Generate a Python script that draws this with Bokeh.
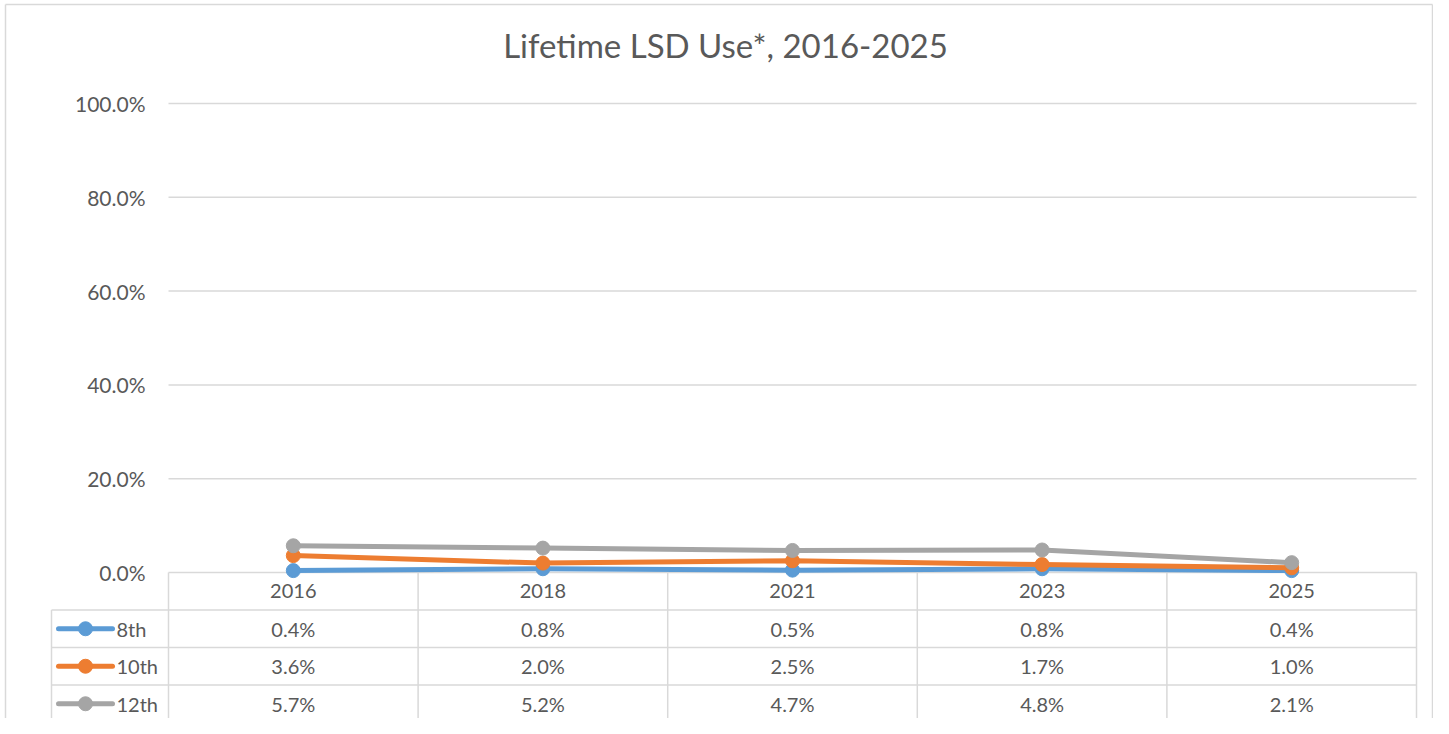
from bokeh.plotting import figure
from bokeh.models import ColumnDataSource, Range1d
from bokeh.core.properties import value
from bokeh.embed import file_html
from bokeh.resources import INLINE

# ---------------- data ----------------
title_text = "Lifetime LSD Use*, 2016-2025"
years = ["2016", "2018", "2021", "2023", "2025"]
grades = ["8th", "10th", "12th"]
grade8 = [0.4, 0.8, 0.5, 0.8, 0.4]
grade10 = [3.6, 2.0, 2.5, 1.7, 1.0]
grade12 = [5.7, 5.2, 4.7, 4.8, 2.1]
y_ticks = [0, 20, 40, 60, 80, 100]
colors = ["#5B9BD5", "#ED7D31", "#A5A5A5"]

series = [grade8, grade10, grade12]

# ---------------- layout ----------------
W, H = 1433, 718
X0_PX = 168.0          # px where x=0 (left edge of plot area)
COL_PX = 249.6         # px per category column
Y0_PX = 572.0          # px (from top) where y=0
PX_PER_PCT = 4.69      # px per percentage point
ROW_H = 37.5 / PX_PER_PCT  # table row height in data units

FONT = value("Lato")
TXT = "#595959"
GRID = "#D9D9D9"


def dx(px):
    return (px - X0_PX) / COL_PX


def dy(px):
    return (Y0_PX - px) / PX_PER_PCT


x_range = Range1d(dx(0), dx(W))
y_range = Range1d(dy(H), dy(0))

p = figure(width=W, height=H, x_range=x_range, y_range=y_range,
           output_backend="svg", toolbar_location=None,
           x_axis_location=None, y_axis_location=None,
           min_border=0, background_fill_color="white",
           border_fill_color="white", outline_line_color=None)
p.xgrid.visible = False
p.ygrid.visible = False

n = len(years)
xs = [i + 0.5 for i in range(n)]
legend_left = dx(51)

# chart border (left, top, right)
xl, xr = dx(5), dx(W - 1)
yt = dy(4)
p.segment(x0=[xl, xl, xr], y0=[y_range.start, yt, yt],
          x1=[xl, xr, xr], y1=[yt, yt, y_range.start],
          line_color=GRID, line_width=1.5)

# horizontal gridlines
p.segment(x0=[0] * len(y_ticks), y0=y_ticks, x1=[n] * len(y_ticks), y1=y_ticks,
          line_color=GRID, line_width=1.5)

# y tick labels
p.text(x=[dx(145)] * len(y_ticks), y=y_ticks,
       text=[f"{t:.1f}%" for t in y_ticks],
       text_font=FONT, text_font_size="21px", text_color=TXT,
       text_align="right", text_baseline="middle")

# table grid
rows = len(grades) + 1
bottom = -rows * ROW_H
p.segment(x0=list(range(n + 1)), y0=[0] * (n + 1), x1=list(range(n + 1)),
          y1=[bottom] * (n + 1), line_color=GRID, line_width=1.5)
p.segment(x0=[legend_left], y0=[-ROW_H], x1=[legend_left], y1=[bottom],
          line_color=GRID, line_width=1.5)
hy = [-(r + 1) * ROW_H for r in range(rows)]
p.segment(x0=[legend_left] * rows, y0=hy, x1=[n] * rows, y1=hy,
          line_color=GRID, line_width=1.5)

# header (years)
p.text(x=xs, y=[-0.5 * ROW_H] * n, text=years,
       text_font=FONT, text_font_size="20px", text_color=TXT,
       text_align="center", text_baseline="middle")

# table values + legend keys
lx0, lx1 = dx(58), dx(112)
for gi, (g, vals, c) in enumerate(zip(grades, series, colors)):
    yc = -(gi + 1.5) * ROW_H
    p.text(x=xs, y=[yc] * n, text=[f"{v:.1f}%" for v in vals],
           text_font=FONT, text_font_size="20px", text_color=TXT,
           text_align="center", text_baseline="middle")
    p.line(x=[lx0, lx1], y=[yc, yc], line_color=c, line_width=5,
           line_cap="round")
    p.scatter(x=[(lx0 + lx1) / 2], y=[yc], size=14, marker="circle",
              fill_color=c, line_color=c)
    p.text(x=[dx(116)], y=[yc], text=[g],
           text_font=FONT, text_font_size="20px", text_color=TXT,
           text_align="left", text_baseline="middle")

# series lines
for vals, c in zip(series, colors):
    src = ColumnDataSource(dict(x=xs, y=vals))
    p.line("x", "y", source=src, line_color=c, line_width=5,
           line_cap="round", line_join="round")
    p.scatter("x", "y", source=src, size=14, marker="circle",
              fill_color=c, line_color=c)

# title
p.text(x=[dx(725)], y=[dy(44)],
       text=[title_text], text_font=FONT, text_font_size="33px",
       text_color=TXT, text_align="center", text_baseline="middle")

open("out.html", "w").write(file_html(p, INLINE))
